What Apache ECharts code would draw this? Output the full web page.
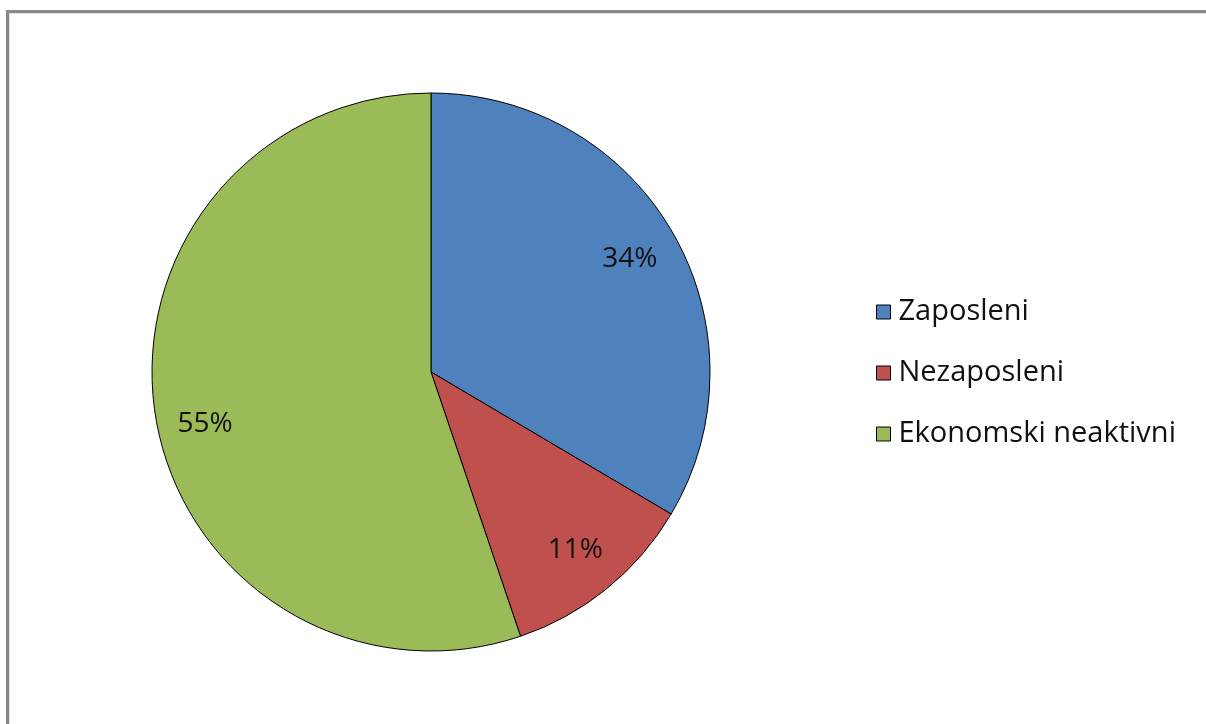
<!DOCTYPE html>
<html><head><meta charset="utf-8">
<script src="https://cdn.jsdelivr.net/npm/echarts@6/dist/echarts.min.js"></script>
<style>html,body{margin:0;padding:0;background:#fff;}#c{width:1206px;height:724px;}</style>
</head><body><div id="c"></div>
<script>
const categories = ['Zaposleni', 'Nezaposleni', 'Ekonomski neaktivni'];
const values = [33.5, 11.3, 55.2];
const colors = ['#4F81BD', '#C0504D', '#9BBB59'];

const chart = echarts.init(document.getElementById('c'));
const font = '"Open Sans", Lato, sans-serif';
const data = categories.map((n, i) => ({ name: n, value: values[i], itemStyle: { color: colors[i] } }));
chart.setOption({
  animation: false,
  graphic: [
    { type: 'polyline', shape: { points: [[7.5, 724], [7.5, 11.5], [1206, 11.5]] }, style: { stroke: '#888888', lineWidth: 3, fill: null } },
    { type: 'polyline', shape: { points: [[9.5, 724], [9.5, 13.5], [1206, 13.5]] }, style: { stroke: '#dddddd', lineWidth: 1, fill: null } }
  ],
  legend: {
    orient: 'vertical', left: 871, top: 292,
    itemWidth: 14, itemHeight: 14, itemGap: 31,
    icon: 'rect',
    data: categories.map((n, i) => ({ name: n, itemStyle: { color: colors[i], borderColor: '#000', borderWidth: 1 } })),
    textStyle: { fontFamily: font, fontSize: 29, color: '#111', lineHeight: 30, padding: [0, 0, 0, 3] },
    selectedMode: false
  },
  series: [
    {
      type: 'pie', center: [431, 372], radius: [0, 279], startAngle: 90, clockwise: true,
      data: data, label: { show: false }, labelLine: { show: false },
      itemStyle: { borderColor: '#000', borderWidth: 1 }, silent: true
    },
    {
      type: 'pie', center: [431, 372], radius: [206, 246], startAngle: 90, clockwise: true,
      data: categories.map((n, i) => ({
        name: n, value: values[i], itemStyle: { color: 'rgba(0,0,0,0)' },
        label: i === 2 ? { offset: [0, 15] } : {}
      })),
      itemStyle: { borderWidth: 0 }, silent: true, legendHoverLink: false,
      label: { show: true, position: 'inside', formatter: '{d}%', fontFamily: font, fontSize: 28, color: '#111' },
      labelLine: { show: false }, percentPrecision: 0
    }
  ]
});
</script></body></html>
